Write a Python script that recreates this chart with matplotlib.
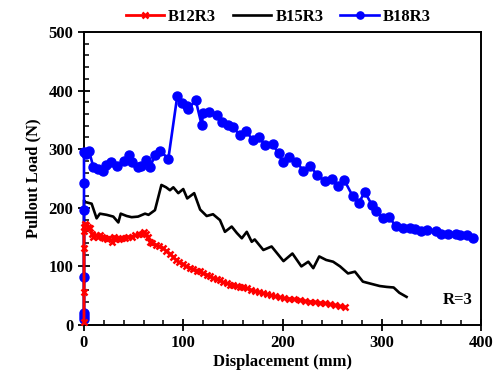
import matplotlib
matplotlib.use("Agg")
import matplotlib.pyplot as plt
from matplotlib.ticker import MultipleLocator

plt.rcParams['font.family'] = ['Liberation Serif', 'DejaVu Serif']
plt.rcParams['font.weight'] = 'bold'

# B12R3 (red)
b12_x = [0, 0, 0, 0, 0, 1, 2, 4, 6, 8, 9.5, 12, 14, 16, 18, 20, 23, 25, 28, 30, 32, 35, 38, 41, 44,
         48, 51, 55, 58, 60, 62.6, 64, 66.5, 69, 73, 76, 80, 83, 86.6, 90, 93, 96, 100, 103, 107,
         110, 114, 117, 120, 124, 127, 130, 134, 137, 140, 144, 147, 150, 154, 157, 160, 164, 168,
         172, 176, 180, 184, 188, 192, 197, 202, 207, 212, 218, 223, 228, 233, 238, 243, 248, 253,
         258, 263]
b12_y = [5, 57, 131, 160, 168, 173, 170, 168, 165, 155, 151, 153, 150, 154, 150, 148, 146, 149, 142,
         151, 147, 146, 149, 148, 150, 151, 153, 155, 156, 158, 155, 150, 142, 140, 136, 134, 131,
         126, 122, 116, 111, 107, 104, 100, 97, 95, 93, 92, 88, 85, 83, 80, 78, 76, 73, 71, 69, 68,
         66.5, 65, 64, 62.6, 60, 58, 57, 55, 53, 51, 49, 47, 46, 45, 44, 42.7, 41, 40, 39, 38, 37,
         35, 34, 32, 31]

# B15R3 (black)
b15_x = [0, 0, 1, 7.7, 12.7, 16, 22.8, 29.5, 34.6, 37, 43, 48, 54.5, 61.5, 65, 71.5, 78, 82.7,
         86.6, 90, 95, 100, 104, 111, 117, 123.6, 130, 137, 142, 148.8, 154, 159, 164, 169, 172,
         180.7, 189, 201, 210, 219, 226, 231, 237, 244, 251, 258, 266, 273, 281, 290, 298, 305,
         312, 317.7, 325]
b15_y = [5, 213, 210, 207, 182, 190, 188, 185, 175, 190, 186, 184, 185, 190, 188, 196, 239, 235,
         230, 235, 225, 232, 216, 225, 197, 186, 189, 179, 159, 168, 157, 148, 159, 142, 146, 128,
         134, 109, 122, 100, 108, 97, 117, 111, 108, 100, 88, 91, 74, 70, 66.5, 65, 64, 55, 48]

# B18R3 (blue)
b18_x = [0, 0, 0, 0, 0, 0, 0, 2, 5, 9.4, 14, 19, 22, 27, 33, 40, 45, 48, 54, 57, 62, 66, 72, 76.6,
         85, 94, 99, 103.6, 105, 112.5, 118.6, 120, 126, 133.7, 138.7, 145, 150, 157, 163, 170,
         176.6, 182, 190, 196, 200, 207, 214, 221, 228, 235, 243, 249.6, 255.6, 262, 270.7, 277,
         283, 290, 294, 301, 307, 314, 321.7, 328, 333, 340, 345.6, 355, 360, 367, 375, 379,
         385.6, 391.6]
b18_y = [10, 15, 20, 82, 197, 242, 296, 292, 297, 270, 267, 262, 273, 278, 271, 280, 290, 279, 270,
         271, 282, 269, 290, 297, 284, 391, 379, 374, 368, 384, 341, 361, 363, 358, 347, 341, 338,
         324, 331, 316, 321, 307, 309, 293, 279, 287, 279, 263, 271, 256, 245, 250, 237, 248, 220,
         209, 227, 205, 195, 182, 185, 169, 165, 166, 163, 161, 162, 161, 156, 155, 156, 154, 154,
         149]

fig = plt.figure(figsize=(4.97, 3.82), dpi=100)
ax = fig.add_axes([84/497, 1 - 325/382, (481-84)/497, (325-32)/382])

l_red, = ax.plot(b12_x, b12_y, color='#ff0000', lw=2.0, marker='x', ms=5, mew=1.8,
                 label='B12R3', zorder=4, clip_on=False)
l_blk, = ax.plot(b15_x, b15_y, color='black', lw=1.9, label='B15R3', zorder=2, clip_on=False)
l_blu, = ax.plot(b18_x, b18_y, color='#0000ff', lw=1.9, marker='o', ms=6.5, label='B18R3',
                 zorder=3, clip_on=False)

ax.set_xlim(0, 400)
ax.set_ylim(0, 500)
ax.xaxis.set_major_locator(MultipleLocator(100))
ax.xaxis.set_minor_locator(MultipleLocator(20))
ax.yaxis.set_major_locator(MultipleLocator(100))
ax.yaxis.set_minor_locator(MultipleLocator(20))
ax.tick_params(which='major', direction='inout', length=8, width=1.3, labelsize=12)
ax.tick_params(which='minor', direction='in', length=3.5, width=1.1)
for s in ax.spines.values():
    s.set_linewidth(1.4)
for lbl in ax.get_xticklabels() + ax.get_yticklabels():
    lbl.set_fontweight('bold')

ax.set_xlabel('Displacement (mm)', fontsize=12, fontweight='bold', labelpad=2)
ax.set_ylabel('Pullout Load (N)', fontsize=12, fontweight='bold', labelpad=5)

ax.text(0.978, 0.085, 'R=3', transform=ax.transAxes, ha='right', va='center',
        fontsize=12, fontweight='bold')

leg = fig.legend(handles=[l_red, l_blk, l_blu], loc='center', bbox_to_anchor=(0.56, 1 - 17/382),
                 ncol=3, frameon=False, handlelength=2.3, handletextpad=0.25,
                 columnspacing=1.0, markerscale=0.8,
                 prop={'weight': 'bold', 'size': 12})

fig.savefig('out.png', dpi=100)
